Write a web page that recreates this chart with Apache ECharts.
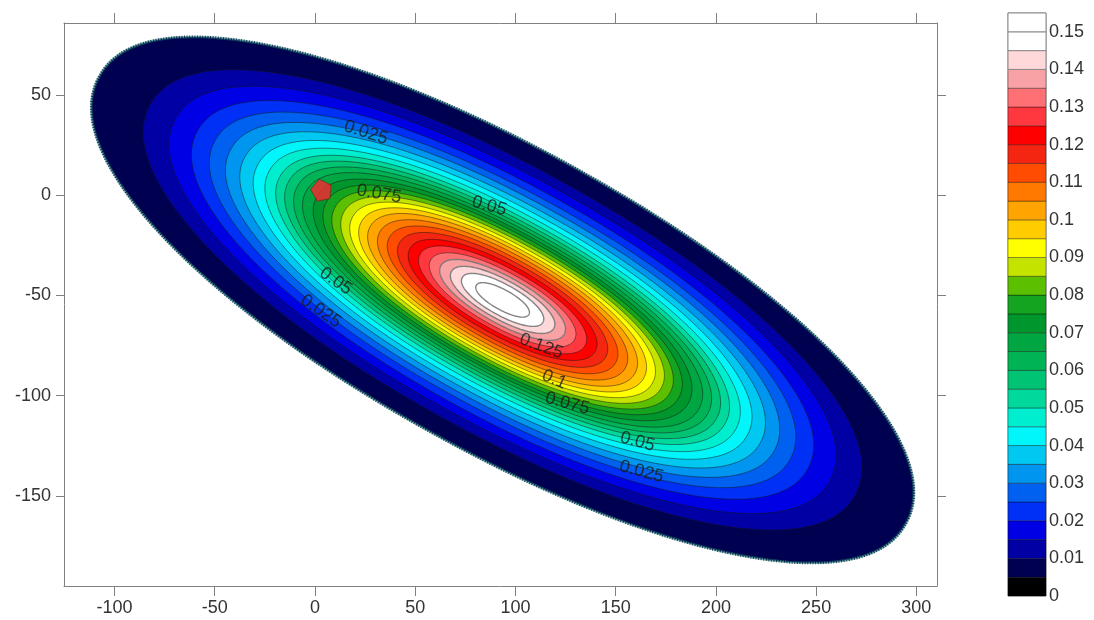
<!DOCTYPE html>
<html>
<head>
<meta charset="utf-8">
<script src="https://cdn.jsdelivr.net/npm/echarts@6/dist/echarts.min.js"></script>
<style>
  html, body { margin: 0; padding: 0; background: #fff; }
  #chart { width: 1094px; height: 620px; }
</style>
</head>
<body>
<div id="chart"></div>
<script>
// axis ticks
const xTicks = [-100, -50, 0, 50, 100, 150, 200, 250, 300];
const yTicks = [-150, -100, -50, 0, 50];

// contour levels (outer -> inner) and the ellipse size read for each level
const levels = [0.005, 0.01, 0.015, 0.02, 0.025, 0.03, 0.035, 0.04, 0.045, 0.05,
  0.055, 0.06, 0.065, 0.07, 0.075, 0.08, 0.085, 0.09, 0.095, 0.1,
  0.105, 0.11, 0.115, 0.12, 0.125, 0.13, 0.135, 0.14, 0.145, 0.15];
const semiMajor = [230.0, 201.0, 186.5, 174.0, 164.0, 155.0, 147.0, 139.5, 133.0, 127.0,
  122.0, 117.0, 112.0, 106.0, 100.5, 95.5, 90.5, 85.5, 80.5, 75.5,
  70.0, 64.5, 58.8, 52.8, 47.0, 41.0, 35.2, 29.2, 23.0, 15.0];
const semiMinor = [75.0, 66.0, 61.3, 57.2, 53.8, 50.8, 48.0, 45.4, 43.0, 40.8,
  39.0, 37.3, 35.7, 34.2, 32.7, 31.1, 29.5, 27.9, 26.3, 24.7,
  23.0, 21.2, 19.4, 17.4, 15.5, 13.6, 11.7, 9.7, 7.7, 5.0];
const plumeCenter = [93.6, -52.2];
const plumeAngle = -29; // degrees, major axis tilt

// colour scale boxes, from 0 up to 0.155
const colorbarEdges = [0, 0.005, 0.01, 0.015, 0.02, 0.025, 0.03, 0.035, 0.04, 0.045, 0.05,
  0.055, 0.06, 0.065, 0.07, 0.075, 0.08, 0.085, 0.09, 0.095, 0.1,
  0.105, 0.11, 0.115, 0.12, 0.125, 0.13, 0.135, 0.14, 0.145, 0.15, 0.155];
const bandColors = ['#000000', '#000050', '#0000a4', '#0000e4', '#0030f6', '#0060f0',
  '#0096f0', '#00c8f0', '#00f6fa', '#00eed0', '#00d89c', '#00c474', '#00b456',
  '#00a642', '#00962e', '#14a420', '#5cc000', '#c4e400', '#ffff00', '#ffcc00',
  '#ffa400', '#ff7800', '#ff4c00', '#f42612', '#ff0000', '#ff3840', '#ff7074',
  '#f8a2a6', '#ffd8da', '#ffffff', '#ffffff'];
const colorbarTicks = [0, 0.01, 0.02, 0.03, 0.04, 0.05, 0.06, 0.07, 0.08,
  0.09, 0.1, 0.11, 0.12, 0.13, 0.14, 0.15];

// contour labels
const labelText = ['0.025', '0.075', '0.05', '0.05', '0.025', '0.125', '0.1', '0.075', '0.05', '0.025'];
const labelX = [25.4, 31.9, 86.9, 10.4, 2.9, 112.9, 119.4, 125.9, 160.9, 162.9];
const labelY = [31.2, 0.6, -5.4, -42.9, -57.9, -75.4, -91.9, -103.9, -122.9, -137.9];
const labelAngle = [-18, -10, -15, -35, -35, -20, -24, -15, -15, -15];

// source location
const sourcePoint = [3.2, 2.8];

const chart = echarts.init(document.getElementById('chart'), null, { renderer: 'canvas' });

const axisGray = '#808080';
const textColor = '#333';
const fontFamily = 'Liberation Sans, Arial, sans-serif';
const bluntness = 2.1; // superellipse exponent, contours are a bit blunt at the ends

function ellipsePoints(api, i) {
  const a = semiMajor[i];
  const b = semiMinor[i];
  const th = plumeAngle * Math.PI / 180;
  const e = 2 / bluntness;
  const pts = [];
  const n = 200;
  for (let j = 0; j < n; j++) {
    const t = (j / n) * Math.PI * 2;
    const c = Math.cos(t);
    const s = Math.sin(t);
    const u = a * Math.sign(c) * Math.pow(Math.abs(c), e);
    const v = b * Math.sign(s) * Math.pow(Math.abs(s), e);
    pts.push(api.coord([
      plumeCenter[0] + u * Math.cos(th) - v * Math.sin(th),
      plumeCenter[1] + u * Math.sin(th) + v * Math.cos(th)
    ]));
  }
  return pts;
}

const option = {
  animation: false,
  backgroundColor: '#fff',
  grid: [
    { left: 64, right: 157, top: 23, bottom: 34, show: false },
    { left: 1008, right: 48, top: 13, bottom: 24, show: true, borderColor: '#8c8c8c', borderWidth: 1, backgroundColor: 'transparent' }
  ],
  xAxis: [
    {
      type: 'value', gridIndex: 0, position: 'bottom', min: -125.2, max: 310.3,
      splitLine: { show: false },
      axisLine: { show: true, onZero: false, lineStyle: { color: axisGray } },
      axisTick: { show: true, length: 10, customValues: xTicks, lineStyle: { color: axisGray } },
      axisLabel: { customValues: xTicks, color: textColor, fontSize: 18, fontFamily, margin: 13 }
    },
    {
      type: 'value', gridIndex: 0, position: 'top', min: -125.2, max: 310.3,
      splitLine: { show: false },
      axisLine: { show: true, onZero: false, lineStyle: { color: axisGray } },
      axisTick: { show: true, length: 10, customValues: xTicks, lineStyle: { color: axisGray } },
      axisLabel: { show: false }
    },
    { type: 'value', gridIndex: 1, min: 0, max: 1, show: false }
  ],
  yAxis: [
    {
      type: 'value', gridIndex: 0, position: 'left', min: -194.9, max: 85.9,
      splitLine: { show: false },
      axisLine: { show: true, onZero: false, lineStyle: { color: axisGray } },
      axisTick: { show: true, length: 8, customValues: yTicks, lineStyle: { color: axisGray } },
      axisLabel: { customValues: yTicks, color: textColor, fontSize: 18, fontFamily, margin: 13 }
    },
    {
      type: 'value', gridIndex: 0, position: 'right', min: -194.9, max: 85.9,
      splitLine: { show: false },
      axisLine: { show: true, onZero: false, lineStyle: { color: axisGray } },
      axisTick: { show: true, length: 9, customValues: yTicks, lineStyle: { color: axisGray } },
      axisLabel: { show: false }
    },
    {
      type: 'value', gridIndex: 1, position: 'right', min: 0, max: 0.155,
      splitLine: { show: false },
      axisLine: { show: false },
      axisTick: { show: false },
      axisLabel: { customValues: colorbarTicks, color: textColor, fontSize: 18, fontFamily, margin: 3 }
    }
  ],
  series: [
    {
      // filled contour bands
      type: 'custom',
      xAxisIndex: 0, yAxisIndex: 0,
      coordinateSystem: 'cartesian2d',
      silent: true,
      data: levels.map((lv, i) => [i, lv]),
      renderItem: (params, api) => {
        const i = api.value(0);
        const pts = ellipsePoints(api, i);
        if (i === 0) {
          // outermost band: teal fringe plus a ragged dark edge
          return {
            type: 'group',
            children: [
              {
                type: 'polygon',
                shape: { points: pts },
                style: { fill: bandColors[1], stroke: 'rgba(30,140,120,0.6)', lineWidth: 2.5 }
              },
              {
                type: 'polygon',
                shape: { points: pts },
                style: { fill: null, stroke: 'rgba(10,10,70,0.75)', lineWidth: 3, lineDash: [1, 1.6] }
              }
            ]
          };
        }
        return {
          type: 'polygon',
          shape: { points: pts },
          style: {
            fill: bandColors[i + 1],
            stroke: i >= 26 ? 'rgba(120,120,120,0.9)' : 'rgba(20,20,20,0.55)',
            lineWidth: i >= 26 ? 1.4 : 0.9
          }
        };
      }
    },
    {
      // contour labels
      type: 'scatter',
      xAxisIndex: 0, yAxisIndex: 0,
      symbolSize: 0,
      silent: true,
      data: labelText.map((t, i) => ({
        name: t,
        value: [labelX[i], labelY[i]],
        label: { rotate: labelAngle[i] }
      })),
      label: {
        show: true,
        position: 'inside',
        formatter: (p) => p.name,
        color: '#1a1a1a',
        fontSize: 18,
        fontFamily
      }
    },
    {
      // source marker
      type: 'scatter',
      xAxisIndex: 0, yAxisIndex: 0,
      silent: true,
      symbol: 'path://M0,-10L9.51,-3.09L5.88,8.09L-5.88,8.09L-9.51,-3.09Z',
      symbolSize: 21,
      symbolRotate: 12,
      itemStyle: { color: '#ff2430', borderColor: '#7a1010', borderWidth: 0.6 },
      data: [sourcePoint]
    },
    {
      // colour scale
      type: 'custom',
      xAxisIndex: 2, yAxisIndex: 2,
      coordinateSystem: 'cartesian2d',
      silent: true,
      data: bandColors.map((c, k) => [k, colorbarEdges[k], colorbarEdges[k + 1]]),
      renderItem: (params, api) => {
        const k = api.value(0);
        const p0 = api.coord([0, api.value(1)]);
        const p1 = api.coord([1, api.value(2)]);
        return {
          type: 'rect',
          shape: { x: p0[0], y: p1[1], width: p1[0] - p0[0], height: p0[1] - p1[1] },
          style: {
            fill: bandColors[k],
            stroke: k >= 28 ? 'rgba(130,130,130,0.9)' : 'rgba(0,0,0,0.35)',
            lineWidth: 1
          }
        };
      },
      encode: { x: 0, y: 1 }
    }
  ]
};

chart.setOption(option);
</script>
</body>
</html>
